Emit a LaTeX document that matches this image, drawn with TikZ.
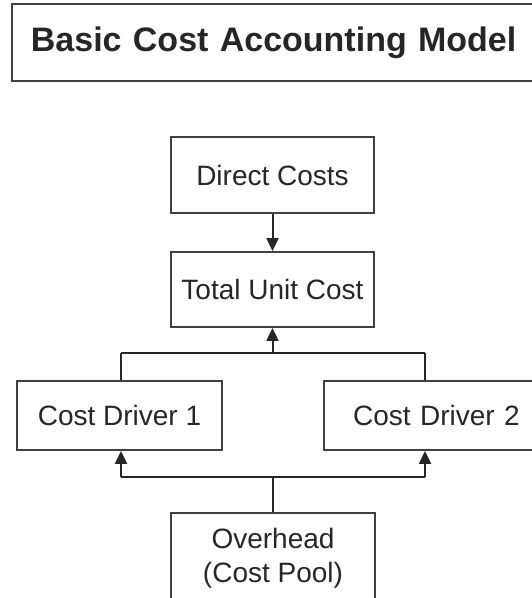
\documentclass[tikz,border=0pt]{standalone}
\usepackage{fontspec}
\setmainfont{Liberation Sans}
\usetikzlibrary{arrows.meta}

\begin{document}
\begin{tikzpicture}[x=1pt,y=-1pt,>={Triangle[length=13pt,width=12pt]}]

    \clip (0,0) rectangle (532,598);
    \begin{scope}[every node/.style={draw=black!75,line width=1.8pt,text=black!85,align=center,font=\fontsize{28}{34}\selectfont}]
        \node (title) [anchor=north west,minimum height=77pt,text width=502pt,inner xsep=19pt,align=left,font=\fontsize{34}{40}\selectfont\bfseries] at (11,3) {Basic Cost Accounting Model};
        \node (direct) [minimum width=203pt,minimum height=76pt] at (272.5,175) {Direct Costs};
        \node (total) [minimum width=203pt,minimum height=75pt] at (272.5,289.5) {Total Unit Cost};
        \node (drv1) [minimum width=205pt,minimum height=69pt] at (119.5,415.5) {Cost Driver 1};
        \node (drv2) [anchor=west,minimum width=225pt,minimum height=69pt,text width=205pt,inner xsep=0pt,align=center] at (323,415.5) {Cost Driver 2};
        \node (over) [anchor=north,minimum width=204pt,inner ysep=15pt] at (273,512) {Overhead\\(Cost Pool)};
    \end{scope}
    \coordinate (j1) at (121,353);
    \coordinate (j2) at (425,353);
    \coordinate (k1) at (121,477);
    \coordinate (k2) at (425,477);
    \begin{scope}[every path/.style={draw=black!85,line width=2pt}]
        \path (direct) edge [->] (total);
        \path (j1 |- drv1.north) edge (j1);
        \path (j2 |- drv2.north) edge (j2);
        \path (j1) edge (j2);
        \path (j1 -| total) edge [->] (total);
        \path (over) edge (k1 -| over);
        \path (k1) edge (k2);
        \path (k1) edge [->] (k1 |- drv1.south);
        \path (k2) edge [->] (k2 |- drv2.south);
    \end{scope}
\end{tikzpicture}
\end{document}
